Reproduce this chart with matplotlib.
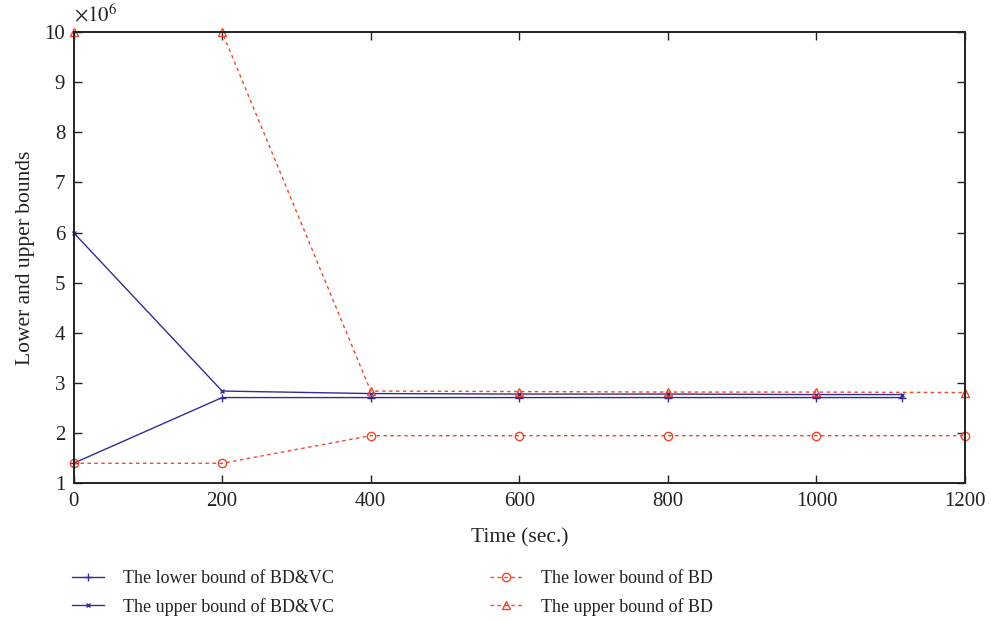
import matplotlib
matplotlib.use("Agg")
import matplotlib.pyplot as plt

plt.rcParams['font.family'] = ['Liberation Serif', 'DejaVu Serif']
plt.rcParams['mathtext.fontset'] = 'stix'

# Time stamps (sec.)
t_bdvc = [0, 200, 400, 600, 800, 1000, 1115]
t_bd = [0, 200, 400, 600, 800, 1000, 1200]

# Bounds in units of 10^6
lower_bdvc = [1.40, 2.71, 2.71, 2.71, 2.71, 2.71, 2.71]
upper_bdvc = [6.00, 2.84, 2.79, 2.78, 2.78, 2.77, 2.77]
lower_bd = [1.40, 1.40, 1.95, 1.95, 1.95, 1.95, 1.95]
upper_bd = [10.0, 10.0, 2.84, 2.83, 2.82, 2.82, 2.81]

labels = ["The lower bound of BD&VC", "The upper bound of BD&VC",
          "The lower bound of BD", "The upper bound of BD"]

blue = "#332d93"
red = "#f0462d"
ink = "#222222"

fig = plt.figure(figsize=(9.91, 6.21), dpi=100)
ax = fig.add_axes([0.0742, 0.2217, 0.9738 - 0.0742, 0.9485 - 0.2217])

h1, = ax.plot(t_bdvc, lower_bdvc, color=blue, lw=1.0, marker='+', ms=6, mew=1.0,
              clip_on=False)
h2, = ax.plot(t_bdvc, upper_bdvc, color=blue, lw=1.0, marker='x', ms=3.5, mew=1.0,
              clip_on=False)
h3, = ax.plot(t_bd, lower_bd, color=red, lw=1.0, ls=(0, (2.5, 2.5)), marker='o',
              ms=6, mfc='none', mec=red, mew=1.0, clip_on=False)
h4, = ax.plot(t_bd, upper_bd, color=red, lw=1.0, ls=(0, (2.5, 2.5)), marker='^',
              ms=6, mfc='none', mec=red, mew=1.0, clip_on=False)

ax.set_xlim(0, 1200)
ax.set_ylim(1, 10)
ax.set_xticks(range(0, 1201, 200))
ax.set_yticks(range(1, 11))
ax.tick_params(direction='in', length=6, width=1.0, labelsize=15, colors=ink,
               top=True, right=True, pad=6)
for s in ax.spines.values():
    s.set_linewidth(1.4)
    s.set_color(ink)

ax.set_xlabel("Time (sec.)", fontsize=15.5, color=ink, labelpad=13)
ax.set_ylabel("Lower and upper bounds", fontsize=15.5, color=ink, labelpad=7)
ax.text(0.0, 1.012, r"$\times10^6$", transform=ax.transAxes, fontsize=15,
        color=ink, ha='left', va='bottom')

legend_kw = dict(loc='upper left', frameon=False, fontsize=13, handlelength=1.75,
                 labelspacing=0.6, handletextpad=1.1, borderpad=0,
                 borderaxespad=0)
leg1 = fig.legend([h1, h2], labels[:2], bbox_to_anchor=(72 / 991, 1 - 570 / 621),
                  **legend_kw)
leg2 = fig.legend([h3, h4], labels[2:], bbox_to_anchor=(490 / 991, 1 - 570 / 621),
                  **legend_kw)
for leg in (leg1, leg2):
    for txt in leg.get_texts():
        txt.set_color(ink)

fig.savefig("out.png", dpi=100)
